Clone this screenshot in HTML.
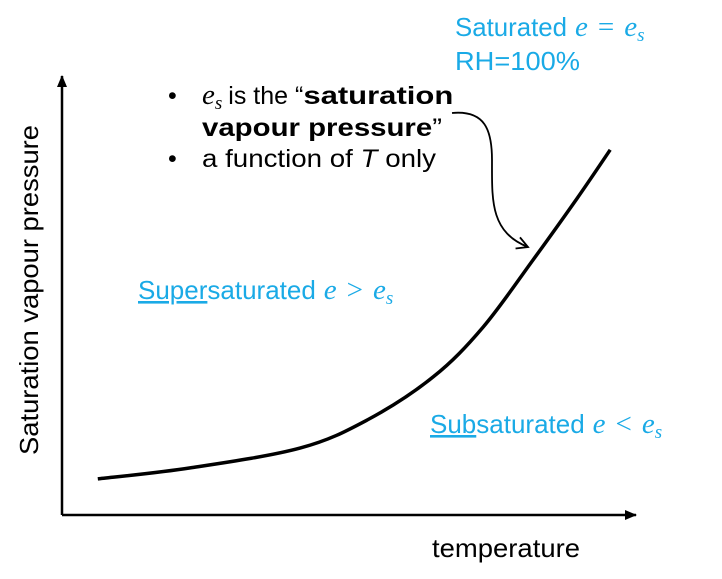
<!DOCTYPE html>
<html><head><meta charset="utf-8"><style>
html,body{margin:0;padding:0;background:#fff;}
svg{display:block;font-family:"Liberation Sans",sans-serif;}
.m{font-family:"Liberation Serif",serif;font-style:italic;font-size:29px;}
.s{font-family:"Liberation Serif",serif;font-style:italic;font-size:19px;}
.o{font-family:"Liberation Serif",serif;font-size:29px;}
</style></head><body>
<svg width="722" height="579" viewBox="0 0 722 579">
<defs>
<marker id="ah" markerWidth="12" markerHeight="10" refX="11" refY="5" orient="auto" markerUnits="userSpaceOnUse"><path d="M0,0 L12,5 L0,10 Z" fill="#000"/></marker>
<marker id="oa" markerWidth="14" markerHeight="14" refX="12" refY="7" orient="auto" markerUnits="userSpaceOnUse"><path d="M1,1 L12,7 L1,13" fill="none" stroke="#000" stroke-width="1.8"/></marker>
</defs>
<line x1="62" y1="515" x2="62" y2="76" stroke="#000" stroke-width="2.5" marker-end="url(#ah)"/>
<line x1="62" y1="515" x2="636" y2="515" stroke="#000" stroke-width="2.5" marker-end="url(#ah)"/>
<text x="38" y="290" font-size="26" text-anchor="middle" textLength="330" lengthAdjust="spacingAndGlyphs" transform="rotate(-90 38 290)">Saturation vapour pressure</text>
<text x="432" y="557" font-size="26" textLength="148" lengthAdjust="spacingAndGlyphs">temperature</text>
<path id="curve" d="" fill="none" stroke="#000" stroke-width="3.5" stroke-linejoin="round"/>
<g fill="#1aaae6" font-size="26">
<text x="455" y="36"><tspan textLength="112" lengthAdjust="spacingAndGlyphs">Saturated</tspan><tspan class="m" dx="8">e</tspan><tspan class="o" dx="10">=</tspan><tspan class="m" dx="10">e</tspan><tspan class="s" dy="5">s</tspan></text>
<text x="455" y="70" textLength="125" lengthAdjust="spacingAndGlyphs">RH=100%</text>
<text x="138" y="299"><tspan text-decoration="underline">Super</tspan>saturated<tspan class="m" dx="8">e</tspan><tspan class="o" dx="10">&gt;</tspan><tspan class="m" dx="10">e</tspan><tspan class="s" dy="5">s</tspan></text>
<text x="430" y="433"><tspan text-decoration="underline">Sub</tspan>saturated<tspan class="m" dx="8">e</tspan><tspan class="o" dx="10">&lt;</tspan><tspan class="m" dx="10">e</tspan><tspan class="s" dy="5">s</tspan></text>
</g>
<g font-size="25" fill="#000">
<text x="168" y="104">•</text>
<text x="202" y="104"><tspan class="m">e</tspan><tspan class="s" dy="5">s</tspan><tspan dy="-5" dx="6">is the “</tspan><tspan font-weight="bold" textLength="150" lengthAdjust="spacingAndGlyphs">saturation</tspan></text>
<text x="202" y="136" textLength="240" lengthAdjust="spacingAndGlyphs"><tspan font-weight="bold">vapour pressure</tspan>”</text>
<text x="168" y="167">•</text>
<text x="202" y="167" textLength="234" lengthAdjust="spacingAndGlyphs">a function of <tspan font-style="italic">T</tspan> only</text>
</g>
<path d="M452,113 C485,110 492,130 492,160 C492,200 490,232 528,247" fill="none" stroke="#000" stroke-width="1.8" marker-end="url(#oa)"/>
</svg>
<script>
var temps=[6.4,22.9,42.5,54.5,66.3,75.2,84.1,92,97.9];
var pressures=[8.2,10.7,15.2,21.6,31.4,42.7,57.95,72,83];
function xs(t){return 62+t*5.6;}
function ys(p){return 515-p*4.4;}
var pts=[];
for(var k=0;k<temps.length;k++){pts.push([xs(temps[k]),ys(pressures[k])]);}
var d="M"+pts[0][0].toFixed(1)+" "+pts[0][1].toFixed(1);
for(var i=0;i<pts.length-1;i++){
 var p0=i>0?pts[i-1]:pts[i],p1=pts[i],p2=pts[i+1],p3=(i+2<pts.length)?pts[i+2]:p2;
 var c1x=p1[0]+(p2[0]-p0[0])/6,c1y=p1[1]+(p2[1]-p0[1])/6;
 var c2x=p2[0]-(p3[0]-p1[0])/6,c2y=p2[1]-(p3[1]-p1[1])/6;
 d+=" C"+c1x.toFixed(1)+" "+c1y.toFixed(1)+" "+c2x.toFixed(1)+" "+c2y.toFixed(1)+" "+p2[0].toFixed(1)+" "+p2[1].toFixed(1);
}
document.getElementById('curve').setAttribute('d',d);
</script>
</body></html>
